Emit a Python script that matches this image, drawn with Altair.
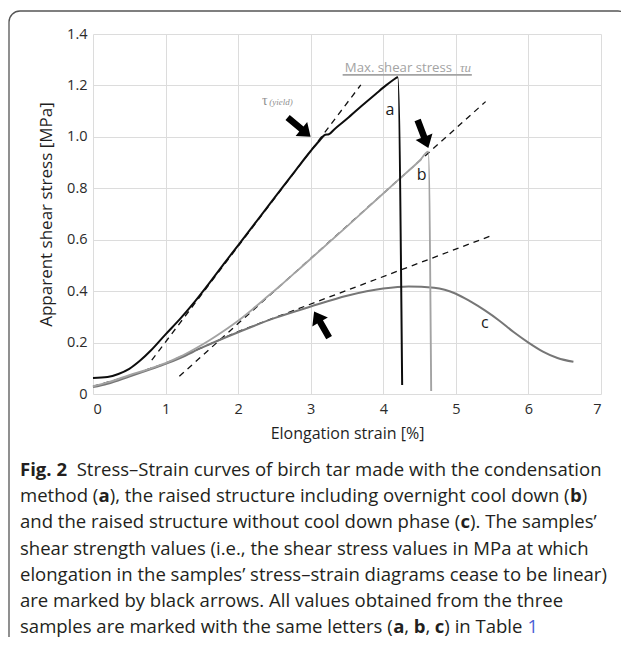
import glob, os, struct
import altair as alt
import pandas as pd

# ---------------- data ----------------
x_ticks = [0, 1, 2, 3, 4, 5, 6, 7]
y_ticks = [0, 0.2, 0.4, 0.6, 0.8, 1.0, 1.2, 1.4]

a_strain = [0, 0.2, 0.35, 0.5, 0.65, 0.8, 1.0, 1.2, 1.4, 1.6, 1.8, 2.0, 2.2, 2.4, 2.6, 2.8, 3.0, 3.12,
            3.2, 3.25, 3.32, 3.5, 3.7, 3.9, 4.05, 4.15, 4.2, 4.26]
a_stress = [0.062, 0.066, 0.078, 0.098, 0.13, 0.17, 0.232, 0.292, 0.358, 0.43, 0.505, 0.578, 0.652, 0.726,
            0.8, 0.873, 0.945, 0.985, 1.008, 1.01, 1.028, 1.07, 1.12, 1.168, 1.203, 1.224, 1.232, 0.035]

b_strain = [0, 0.2, 0.5, 0.8, 1.0, 1.2, 1.4, 1.6, 1.8, 2.0, 2.2, 2.4, 2.6, 2.8, 3.0, 3.5, 4.0, 4.3, 4.5,
            4.62, 4.66]
b_stress = [0.03, 0.045, 0.073, 0.1, 0.12, 0.145, 0.175, 0.208, 0.245, 0.285, 0.33, 0.378, 0.426, 0.476,
            0.526, 0.652, 0.78, 0.856, 0.907, 0.942, 0.012]

c_strain = [0, 0.2, 0.5, 0.8, 1.0, 1.2, 1.5, 2.0, 2.5, 3.0, 3.5, 4.0, 4.35, 4.7, 5.0, 5.2, 5.4, 5.6, 5.8,
            6.0, 6.2, 6.4, 6.62]
c_stress = [0.027, 0.04, 0.068, 0.097, 0.117, 0.14, 0.18, 0.24, 0.295, 0.34, 0.382, 0.41, 0.418, 0.413,
            0.39, 0.36, 0.325, 0.285, 0.24, 0.2, 0.165, 0.14, 0.125]

tan_a_strain = [0.81, 3.69]
tan_a_stress = [0.132, 1.202]
tan_b_strain = [1.19, 5.41]
tan_b_stress = [0.069, 1.137]
tan_c_strain = [0, 0.5, 1.0, 1.5, 2.0, 5.52]
tan_c_stress = [0.03, 0.07, 0.12, 0.18, 0.243, 0.619]

arrow_strain = [2.84, 4.547, 3.15]
arrow_stress = [1.038, 1.011, 0.27]
arrow_angle = [130, 159, 330]

curve_letters = ["a", "b", "c"]
letter_strain = [4.09, 4.53, 5.40]
letter_stress = [1.105, 0.852, 0.276]

max_label = "Max. shear stress"
max_line_strain = [3.44, 5.22]
max_line_stress = 1.241

caption_lines = [
    [("Fig. 2", "bold", None), ("  Stress\u2013Strain curves of birch tar made with the condensation", "normal", None)],
    [("method (", "normal", None), ("a", "bold", None), ("), the raised structure including overnight cool down (", "normal", None), ("b", "bold", None), (")", "normal", None)],
    [("and the raised structure without cool down phase (", "normal", None), ("c", "bold", None), ("). The samples\u2019", "normal", None)],
    [("shear strength values (i.e., the shear stress values in MPa at which", "normal", None)],
    [("elongation in the samples\u2019 stress\u2013strain diagrams cease to be linear)", "normal", None)],
    [("are marked by black arrows. All values obtained from the three", "normal", None)],
    [("samples are marked with the same letters (", "normal", None), ("a", "bold", None), (", ", "normal", None), ("b", "bold", None), (", ", "normal", None), ("c", "bold", None), (") in Table ", "normal", None), ("1", "normal", "#4b5fd6")],
]

# ---------------- text measuring (font metrics from installed files) ----------------
def parse_font(path):
    data = open(path, "rb").read()
    n_tables = struct.unpack(">H", data[4:6])[0]
    tables = {}
    for i in range(n_tables):
        tag, _, off, ln = struct.unpack(">4sIII", data[12 + 16 * i:28 + 16 * i])
        tables[tag.decode("latin1")] = off
    upem = struct.unpack(">H", data[tables["head"] + 18:tables["head"] + 20])[0]
    nhm = struct.unpack(">H", data[tables["hhea"] + 34:tables["hhea"] + 36])[0]
    ho = tables["hmtx"]
    adv = [struct.unpack(">H", data[ho + 4 * i:ho + 4 * i + 2])[0] for i in range(nhm)]
    co = tables["cmap"]
    nsub = struct.unpack(">H", data[co + 2:co + 4])[0]
    cmap = {}
    for i in range(nsub):
        pid, eid, soff = struct.unpack(">HHI", data[co + 4 + 8 * i:co + 12 + 8 * i])
        so = co + soff
        fmt = struct.unpack(">H", data[so:so + 2])[0]
        if fmt == 4 and pid in (0, 3):
            seg2 = struct.unpack(">H", data[so + 6:so + 8])[0]
            n = seg2 // 2
            ends = struct.unpack(">%dH" % n, data[so + 14:so + 14 + seg2])
            starts = struct.unpack(">%dH" % n, data[so + 16 + seg2:so + 16 + 2 * seg2])
            deltas = struct.unpack(">%dh" % n, data[so + 16 + 2 * seg2:so + 16 + 3 * seg2])
            rpos = so + 16 + 3 * seg2
            roffs = struct.unpack(">%dH" % n, data[rpos:rpos + seg2])
            for k in range(n):
                for c in range(starts[k], min(ends[k], 0x3000) + 1):
                    if roffs[k] == 0:
                        g = (c + deltas[k]) & 0xFFFF
                    else:
                        gp = rpos + 2 * k + roffs[k] + 2 * (c - starts[k])
                        g = struct.unpack(">H", data[gp:gp + 2])[0]
                        if g:
                            g = (g + deltas[k]) & 0xFFFF
                    cmap[c] = g
            break
    if not cmap:
        raise ValueError("no cmap")

    def width(s, size):
        tot = 0
        for ch in s:
            g = cmap.get(ord(ch), 0)
            tot += adv[min(g, nhm - 1)]
        return tot * size / upem
    return width


def find_font(names):
    roots = ["/usr/share/fonts", "/usr/local/share/fonts", os.path.expanduser("~/.fonts"),
             os.path.expanduser("~/.local/share/fonts")]
    files = []
    for r in roots:
        files += glob.glob(os.path.join(r, "**", "*.ttf"), recursive=True)
        files += glob.glob(os.path.join(r, "**", "*.otf"), recursive=True)
    for nm in names:
        for f in files:
            if os.path.basename(f).lower().startswith(nm):
                try:
                    return parse_font(f)
                except Exception:
                    pass
    return None


def approx(factor):
    def width(s, size):
        return sum((0.27 if ch in " il.,'\u2019()|" else 0.56) for ch in s) * size * factor
    return width


w_reg = find_font(["opensans-regular.", "opensans[", "opensans-variable"]) or approx(1.0)
w_bold = find_font(["opensans-bold."]) or (lambda s, size: w_reg(s, size) * 1.06)

FONT = "Open Sans"
CAP_X0 = -73          # caption left edge relative to plot origin
CAP_Y0 = 436          # first caption line (middle) relative to plot origin
CAP_DY = 26.2
CAP_WIDTH = 582

line1 = caption_lines[0]
unit = sum((w_bold if st == "bold" else w_reg)(t, 1.0) for t, st, _ in line1)
cap_size = max(13.0, min(21.0, CAP_WIDTH / unit))

# ---------------- chart ----------------
X = alt.X("x:Q", scale=alt.Scale(domain=[0, 7], nice=False),
          axis=alt.Axis(values=x_ticks, format="d", title="Elongation strain [%]"))
Y = alt.Y("y:Q", scale=alt.Scale(domain=[0, 1.4], nice=False),
          axis=alt.Axis(values=y_ticks, title="Apparent shear stress [MPa]",
                        labelExpr="datum.value == 0 ? '0' : format(datum.value, '.1f')"))


def df(xs, ys):
    return pd.DataFrame({"x": xs, "y": ys, "i": list(range(len(xs)))})


layers = []

# frame (rounded box, top and left edges visible)
frame = alt.Chart(pd.DataFrame({"k": [0]})).mark_rect(
    fill=None, fillOpacity=0, stroke="#555555", strokeWidth=1.3, cornerRadius=11
).encode(x=alt.value(-84), x2=alt.value(536), y=alt.value(-23), y2=alt.value(680))
layers.append(frame)

for xs, ys in [(tan_a_strain, tan_a_stress), (tan_b_strain, tan_b_stress), (tan_c_strain, tan_c_stress)]:
    layers.append(alt.Chart(df(xs, ys)).mark_line(color="#111111", strokeWidth=1.3, strokeDash=[6, 5])
                  .encode(x=X, y=Y, order="i:Q"))

for xs, ys, col, sw in [(c_strain, c_stress, "#767676", 2.0), (b_strain, b_stress, "#a3a3a3", 1.9),
                        (a_strain, a_stress, "#0d0d0d", 2.0)]:
    layers.append(alt.Chart(df(xs, ys)).mark_line(color=col, strokeWidth=sw, interpolate="monotone")
                  .encode(x=X, y=Y, order="i:Q"))

# max shear stress underline + label
layers.append(alt.Chart(pd.DataFrame({"x": [max_line_strain[0]], "x2": [max_line_strain[1]],
                                      "y": [max_line_stress]}))
              .mark_rule(color="#a3a3a3", strokeWidth=1.6).encode(x=X, x2="x2:Q", y=Y))
layers.append(alt.Chart(pd.DataFrame({"x": [max_line_strain[0] + 0.03], "y": [max_line_stress + 0.013]}))
              .mark_text(text=max_label, align="left", baseline="alphabetic", font=FONT,
                         fontSize=13.2, color="#a3a3a3").encode(x=X, y=Y))
layers.append(alt.Chart(pd.DataFrame({"x": [max_line_strain[1] - 0.01], "y": [max_line_stress + 0.013]}))
              .mark_text(text="\u03c4u", align="right", baseline="alphabetic", font="Liberation Serif",
                         fontStyle="italic", fontSize=13, color="#a3a3a3").encode(x=X, y=Y))
# tau(yield)
layers.append(alt.Chart(pd.DataFrame({"x": [2.33], "y": [1.125]}))
              .mark_text(text="\u03c4", align="left", baseline="alphabetic", font="Liberation Serif",
                         fontSize=14, color="#8f8f8f").encode(x=X, y=Y))
layers.append(alt.Chart(pd.DataFrame({"x": [2.43], "y": [1.125]}))
              .mark_text(text="(yield)", align="left", baseline="alphabetic", font="Liberation Serif",
                         fontStyle="italic", fontSize=9, color="#8f8f8f").encode(x=X, y=Y))

# curve letters
layers.append(alt.Chart(pd.DataFrame({"x": letter_strain, "y": letter_stress, "t": curve_letters}))
              .mark_text(font=FONT, fontSize=16, color="#1a1a1a", baseline="middle")
              .encode(x=X, y=Y, text="t:N"))

# arrows
arrow_path = "M0,-1L0.6,-0.2L0.22,-0.2L0.22,1L-0.22,1L-0.22,-0.2L-0.6,-0.2Z"
layers.append(alt.Chart(pd.DataFrame({"x": arrow_strain, "y": arrow_stress, "ang": arrow_angle}))
              .mark_point(shape=arrow_path, filled=True, color="#000000", opacity=1, size=900,
                          strokeWidth=0)
              .encode(x=X, y=Y, angle=alt.Angle("ang:Q", scale=None)))

# caption
for li, segs in enumerate(caption_lines):
    xpos = CAP_X0
    ypos = CAP_Y0 + li * CAP_DY
    for text, style, col in segs:
        wf = w_bold if style == "bold" else w_reg
        lead = len(text) - len(text.lstrip(" "))
        vis = text.strip(" ")
        if vis:
            layers.append(alt.Chart(pd.DataFrame({"k": [0]})).mark_text(
                text=vis, align="left", baseline="middle", font=FONT, fontSize=cap_size,
                fontWeight=("bold" if style == "bold" else "normal"),
                color=(col or "#231f20")
            ).encode(x=alt.value(xpos + wf(" " * lead, cap_size)), y=alt.value(ypos)))
        xpos += wf(text, cap_size)

chart = alt.layer(*layers).properties(
    width=508, height=360,
    padding={"left": 85, "top": 26, "right": 20, "bottom": 243},
    autosize=alt.AutoSizeParams(type="none"),
).configure_view(stroke=None).configure_axis(
    grid=True, gridColor="#dcdcdc", gridWidth=1, domain=False, ticks=False,
    labelFont=FONT, labelFontSize=14.5, labelColor="#2b2b2b",
    titleFont=FONT, titleFontWeight="normal", titleColor="#1f1f1f",
).configure_axisX(labelPadding=8, titleFontSize=16, titlePadding=10
).configure_axisY(labelPadding=6, titleFontSize=17, titlePadding=11)

chart.save("out.html", embed_options={"renderer": "svg", "actions": False})
